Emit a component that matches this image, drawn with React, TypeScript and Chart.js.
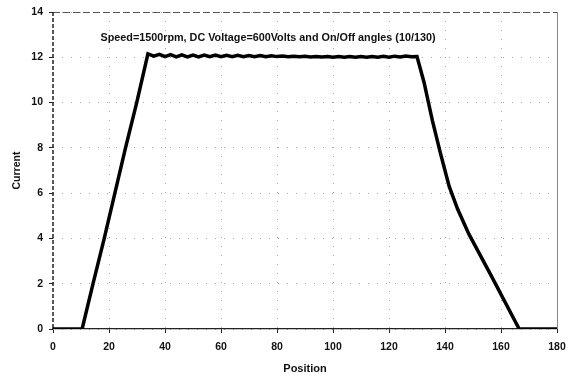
import React, { useEffect, useRef } from "react";
import { Chart, registerables } from "chart.js";

Chart.register(...registerables);

const TITLE = "Speed=1500rpm, DC Voltage=600Volts and On/Off angles (10/130)";
const X_LABEL = "Position";
const Y_LABEL = "Current";

const positions: number[] = [
  0, 10.4, 14.3, 18.3, 22.1, 25.9, 29.9, 33.9,
  36, 38, 40, 42, 44, 46, 48, 50, 52, 54, 56, 58, 60, 62, 64, 66, 68, 70,
  72, 74, 76, 78, 80, 82, 84, 86, 88, 90, 92, 94, 96, 98, 100, 102, 104,
  106, 108, 110, 112, 114, 116, 118, 120, 122, 124, 126, 128,
  130, 132.5, 135.5, 138.5, 141.5, 144.5, 148.5, 156.3, 166.5, 180,
];
const currents: number[] = [
  0, 0, 2, 4, 6, 8, 10, 12.15,
  12.05, 12.13, 12.03, 12.12, 12.02, 12.11, 12.02, 12.1, 12.02, 12.1, 12.03, 12.1,
  12.03, 12.09, 12.03, 12.09, 12.03, 12.08, 12.03, 12.08, 12.03, 12.07, 12.03, 12.06,
  12.02, 12.05, 12.02, 12.04, 12.01, 12.03, 12.01, 12.03, 12.0, 12.03, 12.0, 12.03,
  12.0, 12.03, 12.0, 12.03, 12.0, 12.04, 12.0, 12.05, 12.01, 12.06, 12.02,
  12.03, 10.9, 9.2, 7.7, 6.3, 5.3, 4.2, 2.4, 0, 0,
];

const FONT = '"Liberation Sans", Arial, sans-serif';

export default function App() {
  const ref = useRef<HTMLCanvasElement | null>(null);

  useEffect(() => {
    if (!ref.current) return;
    const framePlugin = {
      id: "frame",
      beforeDatasetsDraw(chart: any) {
        const { ctx, chartArea } = chart;
        ctx.save();
        ctx.lineWidth = 1;
        ctx.strokeStyle = "#555";
        ctx.setLineDash([7, 3]);
        ctx.beginPath();
        ctx.moveTo(chartArea.left, chartArea.top + 0.5);
        ctx.lineTo(chartArea.right, chartArea.top + 0.5);
        ctx.stroke();
        ctx.strokeStyle = "#888";
        ctx.setLineDash([]);
        ctx.beginPath();
        ctx.moveTo(chartArea.right + 0.5, chartArea.top);
        ctx.lineTo(chartArea.right + 0.5, chartArea.bottom);
        ctx.stroke();
        ctx.strokeStyle = "#222";
        ctx.lineWidth = 1.5;
        ctx.setLineDash([4, 2]);
        ctx.beginPath();
        ctx.moveTo(chartArea.left, chartArea.top);
        ctx.lineTo(chartArea.left, chartArea.bottom);
        ctx.stroke();
        ctx.restore();
      },
      afterDraw(chart: any) {
        const { ctx } = chart;
        ctx.save();
        ctx.fillStyle = "#111";
        ctx.font = `bold 10.8px ${FONT}`;
        ctx.textAlign = "center";
        ctx.textBaseline = "middle";
        ctx.fillText(TITLE, 268, 38);
        ctx.restore();
      },
    };

    const tickFont = { family: FONT, size: 10.5, weight: "bold" as const };

    const chart = new Chart(ref.current, {
      type: "line",
      data: {
        datasets: [
          {
            data: positions.map((p, i) => ({ x: p, y: currents[i] })),
            borderColor: "#000",
            borderWidth: 3.5,
            pointRadius: 0,
            tension: 0,
            fill: false,
          },
        ],
      },
      options: {
        animation: false,
        responsive: false,
        layout: { padding: { top: 12, right: 12, left: 0, bottom: 0 } },
        plugins: {
          legend: { display: false },
          tooltip: { enabled: false },
        },
        scales: {
          x: {
            type: "linear",
            min: 0,
            max: 180,
            ticks: {
              stepSize: 20,
              color: "#111",
              font: tickFont,
              padding: 8,
            },
            grid: {
              color: "#aaa",
              tickLength: 4,
              tickColor: "#222",
            },
            border: { color: "#222", width: 1.2, dash: [1, 8] },
            title: {
              display: true,
              text: X_LABEL,
              color: "#111",
              font: { family: FONT, size: 11, weight: "bold" },
              padding: { top: 3, bottom: 0 },
            },
            afterFit(scale: any) {
              scale.height = 47;
              scale.paddingRight = 0;
              scale.paddingLeft = 0;
            },
          },
          y: {
            type: "linear",
            min: 0,
            max: 14,
            ticks: {
              stepSize: 2,
              color: "#111",
              font: tickFont,
              padding: 6,
            },
            grid: {
              color: "#aaa",
              tickLength: 4,
              tickColor: "#222",
            },
            border: { display: false, dash: [1, 8] },
            title: {
              display: true,
              text: Y_LABEL,
              color: "#111",
              font: { family: FONT, size: 10.5, weight: "bold" },
              padding: { top: 11, bottom: 0 },
            },
            afterFit(scale: any) {
              scale.width = 53;
              scale.paddingTop = 0;
              scale.paddingBottom = 0;
            },
          },
        },
      },
      plugins: [framePlugin],
    });
    return () => chart.destroy();
  }, []);

  return (
    <div style={{ position: "fixed", left: 0, top: 0, width: 569, height: 376, background: "#fff" }}>
      <canvas ref={ref} width={569} height={376} />
    </div>
  );
}
